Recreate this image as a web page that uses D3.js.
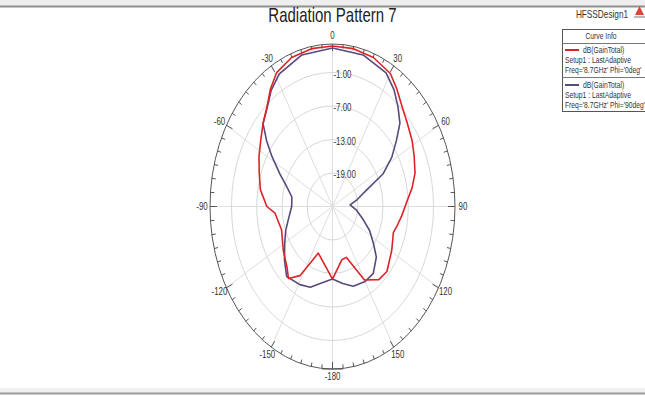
<!DOCTYPE html>
<html>
<head>
<meta charset="utf-8">
<script src="https://cdn.jsdelivr.net/npm/d3@7"></script>
<style>
  html, body { margin: 0; padding: 0; background: #fff; }
  svg { display: block; font-family: "Liberation Sans", Arial, sans-serif; }
</style>
</head>
<body>
<svg id="chart" width="645" height="397"></svg>
<script>
// Gain (dB) versus theta (deg) for the two cuts
const phi0Theta = [-180, -158, -148, -141, -135, -124, -109, -95, -90, -80, -71, -63, -55, -48, -41, -35, -29, -20, -10, 0, 10, 20, 30, 36, 43, 50, 58, 65, 73, 80, 86, 96, 103, 108, 119, 132, 140, 150, 160, 167, 180];
const phi0Gain  = [-12.0, -16.0, -10.4, -8.4, -9.7, -10.9, -12.2, -11.3, -9.4, -7.6, -6.6, -5.4, -4.2, -2.8, -1.3, 0.7, 2.4, 3.4, 3.7, 3.75, 3.7, 3.4, 2.5, 1.0, -0.7, -1.8, -2.7, -3.6, -4.5, -5.8, -7.1, -8.5, -9.3, -9.8, -8.9, -7.6, -7.9, -9.8, -15.3, -15.2, -12.0];

const phi90Theta = [-180, -168, -160, -151, -139, -130, -120, -111, -103, -90, -80, -72, -65, -58, -53, -48, -41, -35, -28, -15, 0, 15, 28, 35, 41, 47, 52, 58, 64, 70, 78, 86, 97, 108, 116, 124, 131, 141, 150, 161, 170, 180];
const phi90Gain  = [-12.0, -10.9, -9.6, -9.0, -8.4, -10.1, -11.9, -13.1, -14.2, -15.3, -15.2, -13.6, -11.2, -8.0, -5.4, -2.8, -1.4, 0.4, 1.9, 3.1, 3.4, 3.1, 2.1, 0.5, -1.3, -3.1, -5.7, -8.4, -11.6, -16.4, -19.0, -20.8, -19.2, -17.3, -15.2, -13.3, -11.2, -9.6, -9.5, -9.9, -11.0, -12.0];

const ringValues = [-19, -13, -7, -1];
const angleLabels = [0, 30, 60, 90, 120, 150, -180, -150, -120, -90, -60, -30];

const seriesNames = ["dB(GainTotal)", "dB(GainTotal)"];
const seriesSetup = ["Setup1 : LastAdaptive", "Setup1 : LastAdaptive"];
const seriesFreq = ["Freq='8.7GHz' Phi='0deg'", "Freq='8.7GHz' Phi='90deg'"];
const seriesColors = ["#dc2428", "#584a7a"];

const svg = d3.select("#chart");
const W = 645, H = 397;
const cx = 332.5, cy = 206.5, rx = 122.5, ry = 162.5;
const sx = 0.75; // narrow text

const r = d3.scaleLinear().domain([-25, 4.1]).range([0, 1]);
const rad = d => d * Math.PI / 180;
const px = (t, k) => cx + rx * k * Math.sin(rad(t));
const py = (t, k) => cy - ry * k * Math.cos(rad(t));

function txt(g, x, y, s, size, anchor, fill) {
  return g.append("text")
    .attr("transform", `translate(${x},${y}) scale(${sx},1)`)
    .attr("text-anchor", anchor || "start")
    .attr("dominant-baseline", "central")
    .attr("font-size", size)
    .attr("fill", fill || "#333")
    .text(s);
}

// window frame bands
svg.append("rect").attr("x", 0).attr("y", 0).attr("width", W).attr("height", H).attr("fill", "#fff");
svg.append("rect").attr("x", 0).attr("y", 0).attr("width", W).attr("height", 6).attr("fill", "#efefef");
svg.append("line").attr("x1", 0).attr("x2", W).attr("y1", 6.5).attr("y2", 6.5).attr("stroke", "#8f8f8f").attr("stroke-width", 2);
svg.append("rect").attr("x", 0).attr("y", 388).attr("width", W).attr("height", 5).attr("fill", "#f0f0f0");
svg.append("line").attr("x1", 0).attr("x2", W).attr("y1", 393.5).attr("y2", 393.5).attr("stroke", "#9a9a9a").attr("stroke-width", 2);

// title
txt(svg, cx, 15, "Radiation Pattern 7", 20, "middle", "#222");

// grid spokes
const grid = svg.append("g");
d3.range(0, 360, 30).forEach(t => {
  grid.append("line")
    .attr("x1", cx).attr("y1", cy)
    .attr("x2", px(t, 1)).attr("y2", py(t, 1))
    .attr("stroke", "#dedede").attr("stroke-width", 1);
});
// grid rings
ringValues.forEach(v => {
  grid.append("ellipse")
    .attr("cx", cx).attr("cy", cy)
    .attr("rx", rx * r(v)).attr("ry", ry * r(v))
    .attr("fill", "none").attr("stroke", "#d8d8d8").attr("stroke-width", 1);
});
// outer ring
svg.append("ellipse")
  .attr("cx", cx).attr("cy", cy).attr("rx", rx).attr("ry", ry)
  .attr("fill", "none").attr("stroke", "#555").attr("stroke-width", 1);
// ticks every 5 degrees
d3.range(0, 360, 5).forEach(t => {
  const L = t % 30 === 0 ? 7 : 4;
  const s = Math.sin(rad(t)), c = Math.cos(rad(t));
  svg.append("line")
    .attr("x1", cx + rx * s).attr("y1", cy - ry * c)
    .attr("x2", cx + (rx - L) * s).attr("y2", cy - (ry - L) * c)
    .attr("stroke", "#555").attr("stroke-width", 1);
});
// bottom marker
svg.append("line").attr("x1", 322).attr("x2", 343).attr("y1", 369).attr("y2", 369).attr("stroke", "#555").attr("stroke-width", 1);

// angle labels
angleLabels.forEach(t => {
  const s = Math.sin(rad(t)), c = Math.cos(rad(t));
  txt(svg, cx + (rx + 8) * s, cy - (ry + 8) * c, String(t), 10.5, "middle", "#333");
});
// ring labels
ringValues.forEach(v => {
  txt(svg, cx + 1, cy - ry * r(v) + 2, v.toFixed(2), 10.5, "start", "#333");
});

// curves
const line = d3.line()
  .x(d => px(d[0], r(d[1])))
  .y(d => py(d[0], r(d[1])));
const curves = [
  d3.zip(phi0Theta, phi0Gain),
  d3.zip(phi90Theta, phi90Gain)
];
// draw 90deg cut first so the red cut sits on top
[1, 0].forEach(i => {
  svg.append("path")
    .attr("d", line(curves[i]))
    .attr("fill", "none")
    .attr("stroke", seriesColors[i])
    .attr("stroke-width", 1.6)
    .attr("stroke-linejoin", "round");
});

// design name and logo
txt(svg, 602, 14, "HFSSDesign1", 11, "middle", "#333");
svg.append("path").attr("d", "M635,15 L639.5,6 L644,15 Z").attr("fill", "#d9473a");
svg.append("rect").attr("x", 634).attr("y", 16).attr("width", 11).attr("height", 2).attr("fill", "#b9b9b9");

// legend
const lg = svg.append("g");
lg.append("rect").attr("x", 562.5).attr("y", 29.5).attr("width", 90).attr("height", 82)
  .attr("fill", "#fff").attr("stroke", "#555").attr("stroke-width", 1);
txt(lg, 601, 36, "Curve Info", 9, "middle", "#333");
lg.append("line").attr("x1", 562).attr("x2", 645).attr("y1", 43.5).attr("y2", 43.5).attr("stroke", "#777");
lg.append("line").attr("x1", 562).attr("x2", 645).attr("y1", 77.5).attr("y2", 77.5).attr("stroke", "#777");
[0, 1].forEach(i => {
  const y0 = 50 + i * 35;
  lg.append("line").attr("x1", 565).attr("x2", 579).attr("y1", y0).attr("y2", y0)
    .attr("stroke", seriesColors[i]).attr("stroke-width", 2);
  txt(lg, 583, y0, seriesNames[i], 9, "start", "#333");
  txt(lg, 565, y0 + 10.5, seriesSetup[i], 9, "start", "#333");
  txt(lg, 565, y0 + 20.5, seriesFreq[i], 9, "start", "#333");
});
</script>
</body>
</html>
